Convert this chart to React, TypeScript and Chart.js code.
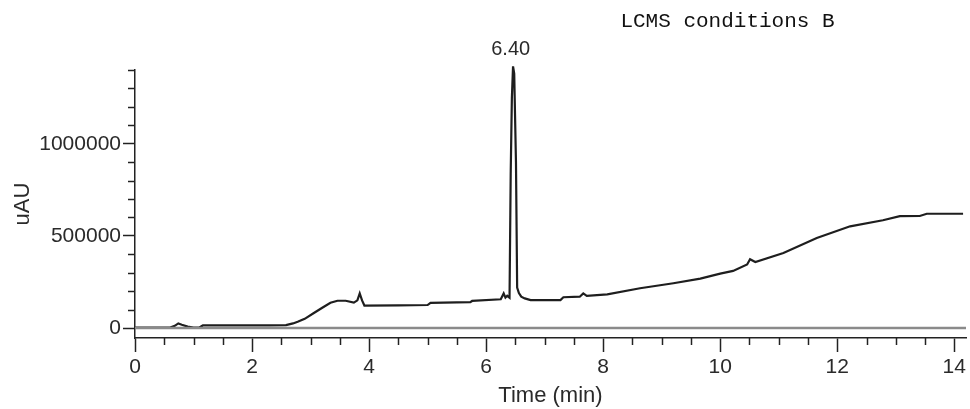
import React, { useEffect, useRef } from "react";
import { Chart, registerables } from "chart.js";

Chart.register(...registerables);

// Retention time (min) and absorbance (uAU) of the trace
const times = [
  0.0, 0.3, 0.6, 0.68, 0.74, 0.8, 0.9, 1.0, 1.1, 1.16, 1.6, 2.0, 2.3, 2.58, 2.7, 2.78, 2.9, 3.05, 3.2, 3.34,
  3.46, 3.6, 3.74, 3.8, 3.84, 3.88, 3.92, 4.5, 5.0, 5.05, 5.5, 5.73, 5.76, 6.25, 6.3, 6.33, 6.36, 6.4, 6.42,
  6.44, 6.46, 6.48, 6.51, 6.53, 6.56, 6.6, 6.66, 6.76, 7.27, 7.32, 7.6, 7.66, 7.72, 8.07, 8.63, 9.2, 9.66,
  10.0, 10.22, 10.46, 10.51, 10.6, 11.08, 11.65, 12.22, 12.78, 13.07, 13.41, 13.53, 14.15,
];
const absorbance = [
  2000, 2000, 3000, 12000, 25000, 18000, 8000, 3000, 3000, 14000, 14000, 15000, 15000, 16000, 25000, 34000,
  50000, 80000, 110000, 137000, 148000, 148000, 138000, 150000, 188000, 150000, 122000, 123000, 125000,
  137000, 139000, 141000, 147000, 156000, 188000, 165000, 175000, 165000, 840000, 1250000, 1420000, 1380000,
  900000, 220000, 190000, 170000, 161000, 152000, 152000, 167000, 170000, 188000, 175000, 183000, 216000,
  243000, 268000, 295000, 310000, 345000, 373000, 358000, 407000, 489000, 552000, 585000, 607000, 608000,
  620000, 620000,
];
const baselineTimes = [0, 14.2];
const baselineValues = [0, 0];

// Tick positions
const xTickValues = [0, 0.5, 1, 1.5, 2, 2.5, 3, 3.5, 4, 4.5, 5, 5.5, 6, 6.5, 7, 7.5, 8, 8.5, 9, 9.5, 10, 10.5, 11, 11.5, 12, 12.5, 13, 13.5, 14];
const xTickLabels = ["0", "2", "4", "6", "8", "10", "12", "14"];
const yTickValues = [0, 100000, 200000, 300000, 400000, 500000, 600000, 700000, 800000, 900000, 1000000, 1100000, 1200000, 1300000, 1400000];
const yTickLabels = ["0", "500000", "1000000"];

const peakLabel = "6.40";
const peakLabelTime = 6.42;
const peakLabelValue = 1420000;
const cornerText = "LCMS conditions B";
const xTitle = "Time (min)";
const yTitle = "uAU";

const X_MIN = 0;
const X_MAX = 14.2;
const Y_MIN = -54000;
const Y_MAX = 1400000;

const FONT = "'Liberation Sans', Arial, sans-serif";
const TEXT = "#2a2a2a";

const xIsMajor = (v: number) => xTickLabels.includes(String(v));
const yIsMajor = (v: number) => yTickLabels.includes(String(v));

const extrasPlugin = {
  id: "extras",
  afterDraw(chart: any) {
    const { ctx, chartArea, scales } = chart;
    const xs = scales.x;
    const ys = scales.y;
    ctx.save();
    ctx.strokeStyle = "#222";
    ctx.lineWidth = 1.5;
    // minor ticks
    for (const t of ys.ticks) {
      if (yIsMajor(t.value)) continue;
      const py = Math.round(ys.getPixelForValue(t.value)) + 0.5;
      ctx.beginPath();
      ctx.moveTo(chartArea.left - 7, py);
      ctx.lineTo(chartArea.left, py);
      ctx.stroke();
    }
    for (const t of xs.ticks) {
      if (xIsMajor(t.value)) continue;
      const px = Math.round(xs.getPixelForValue(t.value)) + 0.5;
      ctx.beginPath();
      ctx.moveTo(px, chartArea.bottom);
      ctx.lineTo(px, chartArea.bottom + 7);
      ctx.stroke();
    }
    // peak label
    ctx.fillStyle = TEXT;
    ctx.font = `20px ${FONT}`;
    ctx.textAlign = "center";
    ctx.textBaseline = "middle";
    ctx.fillText(peakLabel, xs.getPixelForValue(peakLabelTime), ys.getPixelForValue(peakLabelValue) - 17);
    // corner text
    ctx.font = "21px 'Liberation Mono', 'Courier New', monospace";
    ctx.fillStyle = "#111";
    ctx.fillText(cornerText, chart.width * 0.75, 21);
    ctx.restore();
  },
};

export default function App() {
  const ref = useRef<HTMLCanvasElement | null>(null);

  useEffect(() => {
    document.body.style.margin = "0";
    const canvas = ref.current;
    if (!canvas) return;
    const trace = times.map((t, i) => ({ x: t, y: absorbance[i] }));
    const base = baselineTimes.map((t, i) => ({ x: t, y: baselineValues[i] }));
    const chart = new Chart(canvas, {
      type: "line",
      data: {
        datasets: [
          {
            data: base,
            borderColor: "#8a8a8a",
            borderWidth: 2.5,
            pointRadius: 0,
            tension: 0,
          },
          {
            data: trace,
            borderColor: "#1e1e1e",
            borderWidth: 2.2,
            pointRadius: 0,
            tension: 0,
            clip: false as any,
          },
        ],
      },
      options: {
        animation: false,
        responsive: false,
        parsing: false as any,
        layout: { padding: { top: 70, right: 4, left: 0, bottom: 0 } },
        plugins: {
          legend: { display: false },
          tooltip: { enabled: false },
          title: { display: false },
        },
        scales: {
          x: {
            type: "linear",
            min: X_MIN,
            max: X_MAX,
            afterBuildTicks: (s: any) => {
              s.ticks = xTickValues.map((v) => ({ value: v }));
            },
            afterFit: (s: any) => {
              s.height = 71;
            },
            ticks: {
              autoSkip: false,
              maxRotation: 0,
              minRotation: 0,
              padding: 3,
              color: TEXT,
              font: { family: FONT, size: 21 },
              callback: (v: any) => (xIsMajor(Number(v)) ? String(v) : ""),
            },
            grid: {
              display: true,
              drawOnChartArea: false,
              drawTicks: true,
              tickLength: 14,
              tickWidth: 1.5,
              tickColor: (c: any) => (c.tick && xIsMajor(c.tick.value) ? "#222" : "rgba(0,0,0,0)"),
            },
            border: { display: true, color: "#222", width: 1.5 },
            title: {
              display: true,
              text: xTitle,
              color: TEXT,
              font: { family: FONT, size: 22 },
              padding: { top: 0, bottom: 0 },
            },
          },
          y: {
            type: "linear",
            min: Y_MIN,
            max: Y_MAX,
            afterBuildTicks: (s: any) => {
              s.ticks = yTickValues.map((v) => ({ value: v }));
            },
            afterFit: (s: any) => {
              s.width = 135;
            },
            ticks: {
              autoSkip: false,
              padding: 2,
              color: TEXT,
              font: { family: FONT, size: 21 },
              callback: (v: any) => (yIsMajor(Number(v)) ? String(v) : ""),
            },
            grid: {
              display: true,
              drawOnChartArea: false,
              drawTicks: true,
              tickLength: 12,
              tickWidth: 1.5,
              tickColor: (c: any) => (c.tick && yIsMajor(c.tick.value) ? "#222" : "rgba(0,0,0,0)"),
            },
            border: { display: true, color: "#222", width: 1.5 },
            title: {
              display: true,
              text: yTitle,
              color: TEXT,
              font: { family: FONT, size: 22 },
              padding: { top: 10, bottom: 0 },
            },
          },
        },
      },
      plugins: [extrasPlugin],
    });
    return () => chart.destroy();
  }, []);

  return (
    <div style={{ position: "fixed", left: 0, top: 0, width: 970, height: 409, background: "#fff" }}>
      <canvas ref={ref} width={970} height={409} style={{ display: "block" }} />
    </div>
  );
}
